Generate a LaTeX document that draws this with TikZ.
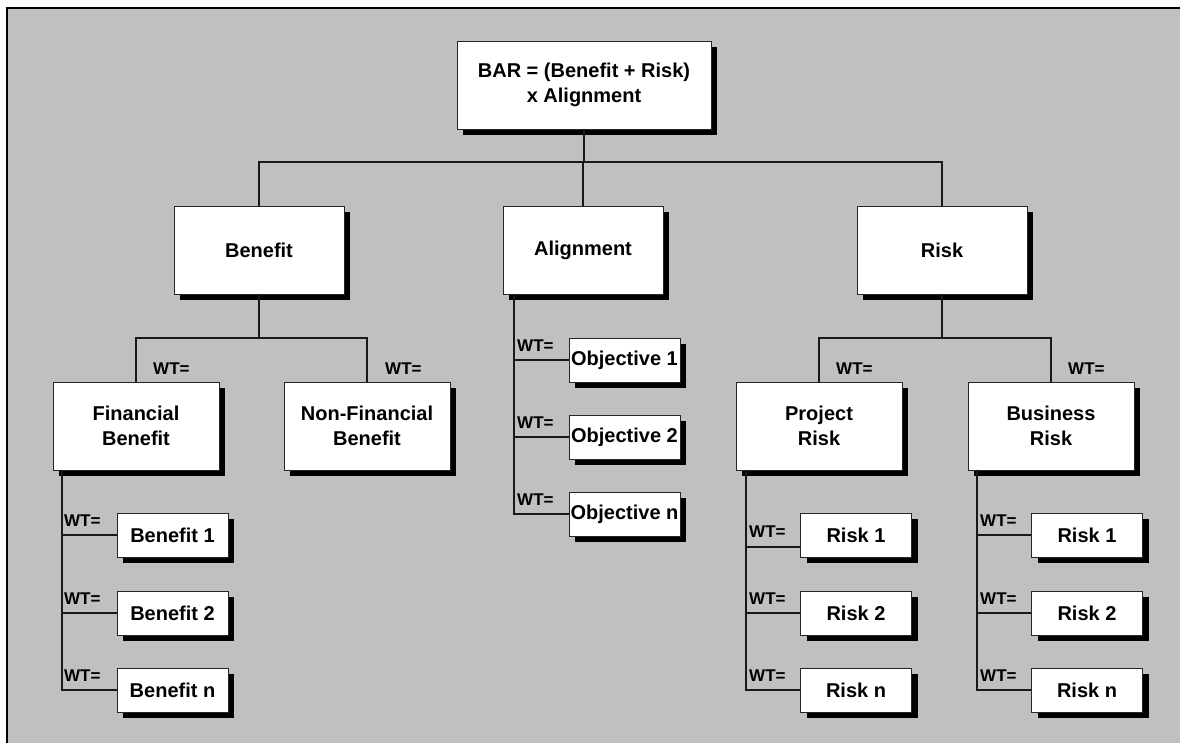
\documentclass[tikz,border=0pt]{standalone}
\usepackage{fontspec}
\setmainfont{Liberation Sans}
\usetikzlibrary{shadows}
\definecolor{bg}{RGB}{192,192,192}
\begin{document}
\begin{tikzpicture}[x=1pt,y=1pt,
  box/.style={draw=black!85, line width=0.9pt, fill=white, align=center,
    font=\fontsize{20}{24.5}\selectfont\bfseries, inner sep=0pt,
    drop shadow={shadow xshift=6pt, shadow yshift=-6pt, opacity=1, fill=black}},
  big/.style={box, minimum height=88pt},
  leaf/.style={box, minimum width=111pt, minimum height=44pt},
  wt/.style={font=\fontsize{17}{17}\selectfont\bfseries, inner sep=0pt, anchor=base west},
  conn/.style={line width=1.1pt, draw=black!90}]
\useasboundingbox (0,0) rectangle (1180,-743);
\fill[bg] (7,-8) rectangle (1180,-743);
\draw[line width=2pt] (7,-743) -- (7,-8) -- (1180,-8);

% main boxes
\node[big, minimum width=254pt] (top) at (584,-85) {BAR = (Benefit + Risk)\\x Alignment};
\node[big, minimum width=170pt] (ben) at (259,-250) {Benefit};
\node[big, minimum width=160pt] (ali) at (583,-250) {Alignment};
\node[big, minimum width=170pt] (risk) at (942,-250) {Risk};
\node[big, minimum width=166pt] (fin) at (136,-426) {Financial\\Benefit};
\node[big, minimum width=166pt] (nfin) at (367,-426) {Non-Financial\\Benefit};
\node[big, minimum width=166pt] (proj) at (819,-426) {Project\\Risk};
\node[big, minimum width=166pt] (busr) at (1051,-426) {Business\\Risk};

% leaves
\node[leaf] (b1) at (172.5,-535) {Benefit 1};
\node[leaf] (b2) at (172.5,-613) {Benefit 2};
\node[leaf] (b3) at (172.5,-690) {Benefit n};
\node[leaf] (o1) at (624.5,-360) {Objective 1};
\node[leaf] (o2) at (624.5,-437) {Objective 2};
\node[leaf] (o3) at (624.5,-514) {Objective n};
\node[leaf] (p1) at (856,-535) {Risk 1};
\node[leaf] (p2) at (856,-613) {Risk 2};
\node[leaf] (p3) at (856,-690) {Risk n};
\node[leaf] (r1) at (1087,-535) {Risk 1};
\node[leaf] (r2) at (1087,-613) {Risk 2};
\node[leaf] (r3) at (1087,-690) {Risk n};

% bus levels
\coordinate (bus0) at (0,-162);
\coordinate (bus1) at (0,-338);

% top level connectors
\draw[conn] (top.south) -- (top.south |- bus0);
\draw[conn] (ben.north) |- (risk.north |- bus0) -- (risk.north);
\draw[conn] (ali.north) -- (ali.north |- bus0);

% second level
\draw[conn] (ben.south) -- (ben.south |- bus1);
\draw[conn] (fin.north) |- (nfin.north |- bus1) -- (nfin.north);
\draw[conn] (risk.south) -- (risk.south |- bus1);
\draw[conn] (proj.north) |- (busr.north |- bus1) -- (busr.north);

% leaf connectors
\foreach \n in {b1,b2,b3} \draw[conn] ([xshift=-74pt]fin.south) |- (\n.west);
\foreach \n in {o1,o2,o3} \draw[conn] ([xshift=-69pt]ali.south) |- (\n.west);
\draw[conn] ([xshift=-73pt]proj.south) |- ([yshift=-12pt]p1.west);
\foreach \n in {p2,p3} \draw[conn] ([xshift=-73pt]proj.south) |- (\n.west);
\foreach \n in {r1,r2,r3} \draw[conn] ([xshift=-74pt]busr.south) |- (\n.west);

% weight labels
\node[wt] (wfin) at (153,-374) {WT=};
\node[wt] (wnfin) at (385,-374) {WT=};
\node[wt] (wproj) at (836,-374) {WT=};
\node[wt] (wbusr) at (1068,-374) {WT=};
\node[wt] (wb1) at (64,-526) {WT=};
\node[wt] (wb2) at (64,-604) {WT=};
\node[wt] (wb3) at (64,-681) {WT=};
\node[wt] (wo1) at (517,-351) {WT=};
\node[wt] (wo2) at (517,-428) {WT=};
\node[wt] (wo3) at (517,-505) {WT=};
\node[wt] (wp1) at (749,-537) {WT=};
\node[wt] (wp2) at (749,-604) {WT=};
\node[wt] (wp3) at (749,-681) {WT=};
\node[wt] (wr1) at (980,-526) {WT=};
\node[wt] (wr2) at (980,-604) {WT=};
\node[wt] (wr3) at (980,-681) {WT=};
\end{tikzpicture}
\end{document}
